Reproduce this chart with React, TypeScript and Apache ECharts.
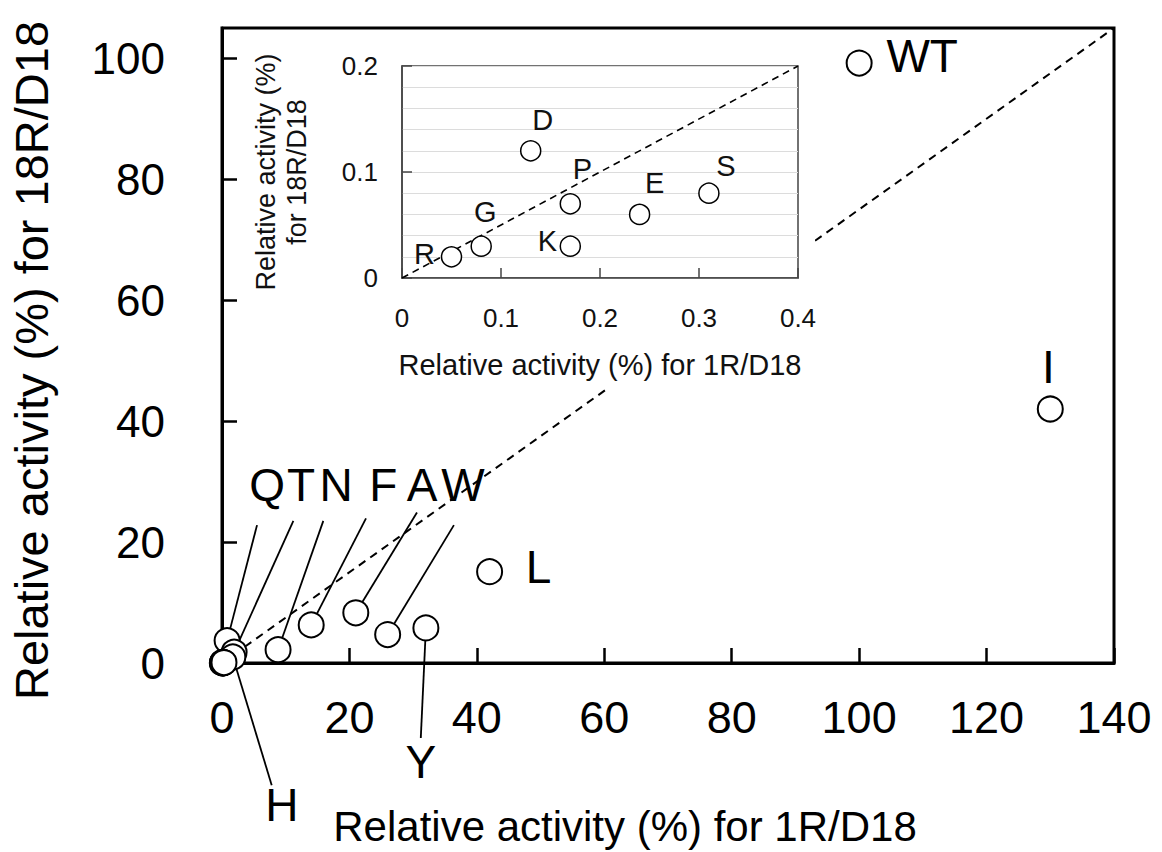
import React, { useEffect, useRef } from "react";
import * as echarts from "echarts";

// ---- main panel data: relative activity (%) ----
const mainNames = ["WT", "I", "L", "Y", "W", "A", "F", "N", "Q", "T", "H"];
const mainX = [100, 130, 42, 32, 26, 21, 14, 8.8, 0.8, 1.9, 1.7];
const mainY = [99.2, 42, 15.1, 5.8, 4.7, 8.3, 6.3, 2.2, 3.7, 1.8, 1.0];

// ---- inset data ----
const insetNames = ["R", "G", "D", "P", "K", "E", "S"];
const insetX = [0.05, 0.08, 0.13, 0.17, 0.17, 0.24, 0.31];
const insetY = [0.02, 0.03, 0.12, 0.07, 0.03, 0.06, 0.08];

// ---- axis ticks ----
const mainXTicks = { min: 0, max: 140, step: 20 };
const mainYTicks = { min: 0, max: 105, step: 20 };
const insetXTicks = { min: 0, max: 0.4, step: 0.1 };
const insetYTicks = { min: 0, max: 0.2, step: 0.1 };

// ---- callout layout (data units of the main axes) ----
const calloutNames = ["Q", "T", "N", "F", "A", "W", "Y", "H"];
const calloutLineEndX = [5.5, 11.2, 15.9, 22.6, 30.6, 36.4, 31.2, 7.8];
const calloutLineEndY = [22.8, 23.5, 23.5, 23.9, 24.9, 22.8, -12.4, -20.2];
const calloutLabelX = [7.1, 12.4, 17.9, 25.3, 31.4, 37.8, 31.2, 9.4];
const calloutLabelY = [29.4, 29.4, 29.4, 29.4, 29.4, 29.4, -16.4, -23.5];

// label offsets in pixels
const mainLabelOffsets: Record<string, number[]> = {
  WT: [63, -7],
  I: [-2, -42],
  L: [49, -5],
};
const insetLabelOffsets = [
  [-27, -3],
  [4, -34],
  [12, -31],
  [12, -35],
  [-23, -5],
  [15, -31],
  [17, -27],
];

const FONT = "'Liberation Sans', Arial, Helvetica, sans-serif";

export default function App() {
  const ref = useRef<HTMLDivElement>(null);
  useEffect(() => {
    if (!ref.current) return;
    const chart = echarts.init(ref.current, undefined, { renderer: "svg" });

    const mainData: any[] = mainNames.map((n, i) => {
      const off = mainLabelOffsets[n];
      return {
        name: n,
        value: [mainX[i], mainY[i]],
        label: off
          ? {
              show: true,
              position: "inside",
              offset: off,
              formatter: "{b}",
              fontSize: 46,
              color: "#000",
              fontFamily: FONT,
              textBorderWidth: 0,
            }
          : { show: false },
      };
    });
    // inset points also lie (overlapping) at the origin of the main panel
    insetNames.forEach((n, i) => {
      mainData.push({ name: n, value: [insetX[i], insetY[i]], label: { show: false } });
    });

    const calloutLines = calloutNames.map((n) => {
      const pi = mainNames.indexOf(n);
      const ci = calloutNames.indexOf(n);
      return {
        coords: [
          [mainX[pi], mainY[pi]],
          [calloutLineEndX[ci], calloutLineEndY[ci]],
        ],
      };
    });

    const calloutLabels = calloutNames.map((n, i) => ({
      name: n,
      value: [calloutLabelX[i], calloutLabelY[i]],
    }));

    const insetData = insetNames.map((n, i) => ({
      name: n,
      value: [insetX[i], insetY[i]],
      label: {
        show: true,
        position: "inside",
        offset: insetLabelOffsets[i],
        formatter: "{b}",
        fontSize: 29,
        color: "#111",
        fontFamily: FONT,
        textBorderWidth: 0,
      },
    }));

    const option: any = {
      animation: false,
      backgroundColor: "#fff",
      textStyle: { fontFamily: FONT },
      grid: [
        {
          left: 222,
          top: 28,
          width: 892,
          height: 635,
          show: true,
          borderColor: "#000",
          borderWidth: 3,
          backgroundColor: "transparent",
          outerBoundsMode: "none",
          z: 0,
        },
        {
          left: 402,
          top: 66,
          width: 396,
          height: 212,
          show: true,
          borderColor: "#444",
          borderWidth: 1.5,
          backgroundColor: "transparent",
          outerBoundsMode: "none",
          z: 20,
        },
      ],
      xAxis: [
        {
          gridIndex: 0,
          type: "value",
          min: mainXTicks.min,
          max: mainXTicks.max,
          interval: mainXTicks.step,
          axisLine: { show: true, onZero: false, lineStyle: { color: "#000", width: 3 } },
          axisTick: { show: true, inside: true, length: 15, lineStyle: { color: "#000", width: 2.5 } },
          axisLabel: { margin: 32, fontSize: 45, color: "#000", fontFamily: FONT },
          splitLine: { show: false },
          name: "Relative activity (%) for 1R/D18",
          nameLocation: "middle",
          nameGap: 142,
          nameTextStyle: { fontSize: 42, color: "#000", fontFamily: FONT, padding: [0, 86, 0, 0] },
        },
        {
          gridIndex: 1,
          type: "value",
          min: insetXTicks.min,
          max: insetXTicks.max,
          interval: insetXTicks.step,
          z: 20,
          axisLine: { show: true, onZero: false, lineStyle: { color: "#444", width: 1.5 } },
          axisTick: { show: true, inside: true, length: 10, lineStyle: { color: "#444", width: 1.5 } },
          axisLabel: { margin: 27, fontSize: 26, color: "#111", fontFamily: FONT },
          splitLine: { show: false },
          name: "Relative activity (%) for 1R/D18",
          nameLocation: "middle",
          nameGap: 72,
          nameTextStyle: { fontSize: 29, color: "#111", fontFamily: FONT },
        },
      ],
      yAxis: [
        {
          gridIndex: 0,
          type: "value",
          min: mainYTicks.min,
          max: mainYTicks.max,
          interval: mainYTicks.step,
          axisLine: { show: true, onZero: false, lineStyle: { color: "#000", width: 3 } },
          axisTick: { show: true, inside: true, length: 15, lineStyle: { color: "#000", width: 2.5 } },
          axisLabel: { margin: 57, fontSize: 44, color: "#000", fontFamily: FONT, showMaxLabel: false },
          splitLine: { show: false },
          name: "Relative activity (%) for 18R/D18",
          nameLocation: "middle",
          nameGap: 167,
          nameTextStyle: { fontSize: 47, color: "#000", fontFamily: FONT, padding: [0, 30, 0, 0] },
        },
        {
          gridIndex: 1,
          type: "value",
          min: insetYTicks.min,
          max: insetYTicks.max,
          interval: insetYTicks.step,
          z: 20,
          axisLine: { show: true, onZero: false, lineStyle: { color: "#444", width: 1.5 } },
          axisTick: { show: true, inside: true, length: 10, lineStyle: { color: "#444", width: 1.5 } },
          minorTick: { show: false, splitNumber: 5 },
          axisLabel: { margin: 24, fontSize: 26, color: "#111", fontFamily: FONT },
          splitLine: { show: true, lineStyle: { color: "#dcdcdc", width: 1 } },
          minorSplitLine: { show: true, lineStyle: { color: "#dcdcdc", width: 1 } },
          name: "Relative activity (%)\nfor 18R/D18",
          nameLocation: "middle",
          nameGap: 90,
          nameTextStyle: { fontSize: 27, color: "#111", fontFamily: FONT, lineHeight: 31 },
        },
      ],
      graphic: [
        {
          type: "rect",
          z: 10,
          silent: true,
          shape: { x: 245, y: 40, width: 570, height: 348 },
          style: { fill: "#fff" },
        },
      ],
      series: [
        {
          type: "line",
          xAxisIndex: 0,
          yAxisIndex: 0,
          data: [
            [mainXTicks.min, mainYTicks.min],
            [mainXTicks.max, mainYTicks.max],
          ],
          symbol: "none",
          lineStyle: { color: "#000", width: 2, type: [8, 6] },
          z: 2,
          silent: true,
        },
        {
          type: "lines",
          coordinateSystem: "cartesian2d",
          xAxisIndex: 0,
          yAxisIndex: 0,
          data: calloutLines,
          lineStyle: { color: "#000", width: 1.8, opacity: 1 },
          clip: false,
          z: 3,
          silent: true,
        },
        {
          type: "scatter",
          xAxisIndex: 0,
          yAxisIndex: 0,
          data: mainData,
          symbol: "circle",
          symbolSize: 25,
          itemStyle: { color: "#fff", borderColor: "#000", borderWidth: 2, opacity: 1 },
          clip: false,
          z: 4,
        },
        {
          type: "scatter",
          xAxisIndex: 0,
          yAxisIndex: 0,
          data: calloutLabels,
          symbol: "circle",
          symbolSize: 0,
          itemStyle: { color: "#000", opacity: 1 },
          label: {
            show: true,
            position: "inside",
            formatter: "{b}",
            fontSize: 46,
            color: "#000",
            opacity: 1,
            textBorderWidth: 0,
            fontFamily: FONT,
          },
          clip: false,
          silent: true,
          z: 4,
        },
        {
          type: "line",
          xAxisIndex: 1,
          yAxisIndex: 1,
          data: [
            [insetXTicks.min, insetYTicks.min],
            [insetXTicks.max, insetYTicks.max],
          ],
          symbol: "none",
          lineStyle: { color: "#000", width: 1.6, type: [7, 5] },
          z: 22,
          silent: true,
        },
        {
          type: "scatter",
          xAxisIndex: 1,
          yAxisIndex: 1,
          data: insetData,
          symbol: "circle",
          symbolSize: 20,
          itemStyle: { color: "#fff", borderColor: "#000", borderWidth: 1.5, opacity: 1 },
          clip: false,
          z: 25,
        },
      ],
    };

    chart.setOption(option);
    return () => chart.dispose();
  }, []);

  return (
    <div
      ref={ref}
      style={{ position: "fixed", left: 0, top: 0, width: 1162, height: 852, background: "#fff" }}
    />
  );
}
